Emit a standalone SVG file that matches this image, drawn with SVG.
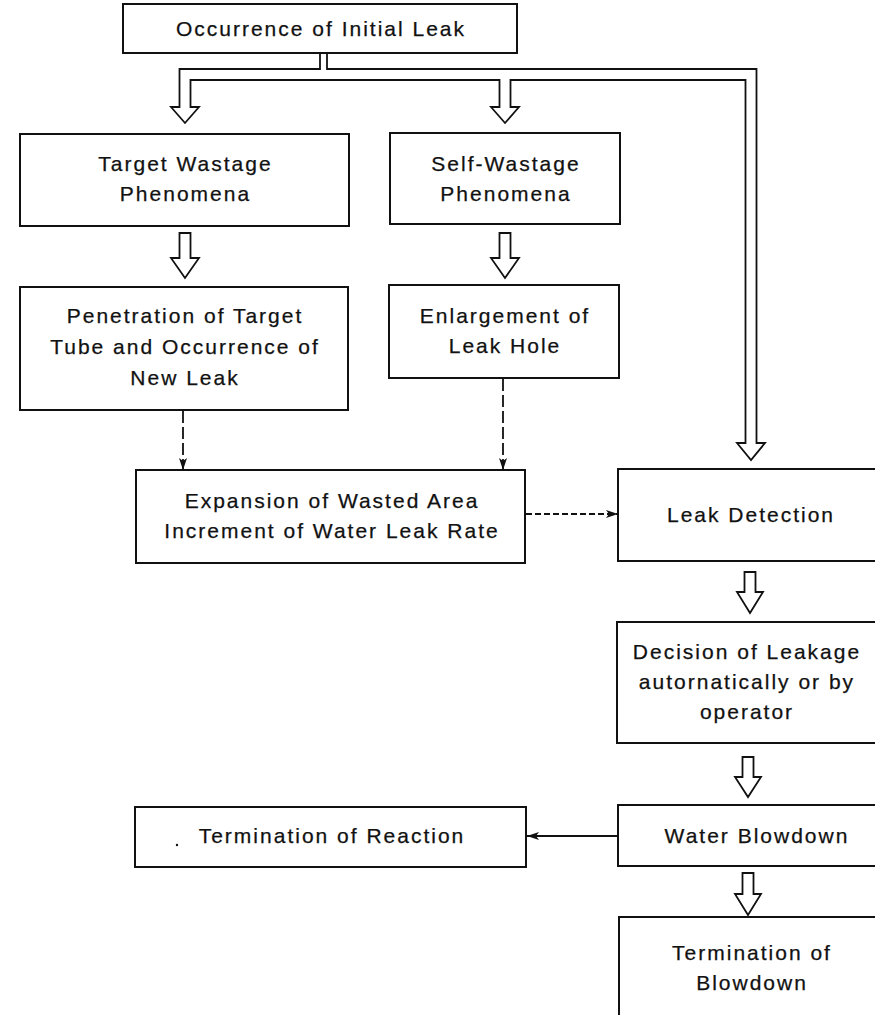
<svg xmlns="http://www.w3.org/2000/svg" width="875" height="1015" viewBox="0 0 875 1015">
<style>
.box{fill:#fff;stroke:#111;stroke-width:2}
.t{font-family:"Liberation Sans",Arial,sans-serif;font-size:21px;letter-spacing:2px;fill:#111;stroke:#111;stroke-width:0.25;text-anchor:middle}
.ha{fill:#fff;stroke:#111;stroke-width:1.8;stroke-linejoin:miter}
.dash{fill:none;stroke:#111;stroke-width:1.8;stroke-dasharray:12 4}
.dash2{fill:none;stroke:#111;stroke-width:1.8;stroke-dasharray:6 3}
.solid{fill:none;stroke:#111;stroke-width:1.8}
</style>
<defs>
<marker id="ah" viewBox="0 0 12 8" refX="12" refY="4" markerWidth="12" markerHeight="8" markerUnits="userSpaceOnUse" orient="auto">
<path d="M0,0 L12,4 L0,8 L3,4 z" fill="#111"/>
</marker>
</defs>
<rect width="875" height="1015" fill="#fff"/>

<g id="connectors">
<path class="ha" d="M320,53 V69 H179.5 V107 H171 L185,123 L199,107 H190.5 V80 H499.5 V107 H491 L505,123 L519,107 H510.5 V80 H745.5 V443 H737 L751,460 L765,443 H756.5 V69 H327 V53"/>
<polygon class="ha" points="179.5,233 190.5,233 190.5,258 199,258 185,278 171,258 179.5,258"/>
<polygon class="ha" points="499.5,233 510.5,233 510.5,258 519,258 505,278 491,258 499.5,258"/>
<polygon class="ha" points="744.5,572 755.5,572 755.5,592 763,592 750,613 737,592 744.5,592"/>
<polygon class="ha" points="742.5,757 753.5,757 753.5,777 761,777 748,797 735,777 742.5,777"/>
<polygon class="ha" points="742.5,873 753.5,873 753.5,894 761,894 748,915 735,894 742.5,894"/>
<line class="dash" x1="183" y1="411" x2="183" y2="470" marker-end="url(#ah)"/>
<line class="dash" x1="503" y1="379" x2="503" y2="470" marker-end="url(#ah)"/>
<line class="dash2" x1="526" y1="514" x2="618" y2="514" marker-end="url(#ah)"/>
<line class="solid" x1="618" y1="836" x2="527" y2="836" marker-end="url(#ah)"/>
</g>

<g id="n_initial">
<rect class="box" x="123" y="4" width="394" height="49"/>
<text class="t" x="321" y="36">Occurrence of Initial Leak</text>
</g>
<g id="n_target">
<rect class="box" x="20" y="134" width="329" height="92"/>
<text class="t" x="185.5" y="171">Target Wastage</text>
<text class="t" x="185.5" y="201">Phenomena</text>
</g>
<g id="n_self">
<rect class="box" x="390" y="133" width="230" height="91"/>
<text class="t" x="506" y="171">Self-Wastage</text>
<text class="t" x="506" y="201">Phenomena</text>
</g>
<g id="n_penetration">
<rect class="box" x="20" y="287" width="328" height="123"/>
<text class="t" x="185" y="323">Penetration of Target</text>
<text class="t" x="185" y="354">Tube and Occurrence of</text>
<text class="t" x="185" y="385">New Leak</text>
</g>
<g id="n_enlargement">
<rect class="box" x="389" y="285" width="230" height="93"/>
<text class="t" x="505" y="323">Enlargement of</text>
<text class="t" x="505" y="353">Leak Hole</text>
</g>
<g id="n_expansion">
<rect class="box" x="136" y="470" width="389" height="93"/>
<text class="t" x="332" y="508">Expansion of Wasted Area</text>
<text class="t" x="332" y="538">Increment of Water Leak Rate</text>
</g>
<g id="n_detection">
<rect class="box" x="618" y="469" width="262" height="92"/>
<text class="t" x="751" y="522">Leak Detection</text>
</g>
<g id="n_decision">
<rect class="box" x="617" y="622" width="263" height="121"/>
<text class="t" x="747" y="659">Decision of Leakage</text>
<text class="t" x="747" y="689">autornatically or by</text>
<text class="t" x="747" y="719">operator</text>
</g>
<g id="n_blowdown">
<rect class="box" x="618" y="805" width="262" height="61"/>
<text class="t" x="757" y="843">Water Blowdown</text>
</g>
<g id="n_reaction">
<rect class="box" x="135" y="807" width="391" height="60"/>
<circle cx="177" cy="845" r="1.2" fill="#111"/>
<text class="t" x="332" y="843">Termination of Reaction</text>
</g>
<g id="n_term_blowdown">
<rect class="box" x="619" y="917" width="261" height="110"/>
<text class="t" x="752" y="960">Termination of</text>
<text class="t" x="752" y="990">Blowdown</text>
</g>
</svg>
